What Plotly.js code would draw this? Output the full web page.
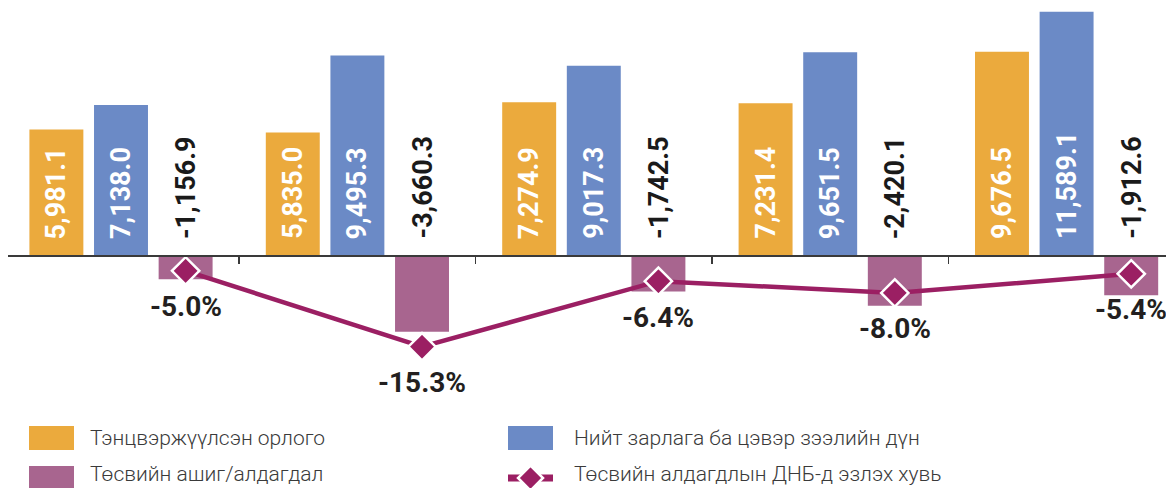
<!DOCTYPE html>
<html><head><meta charset="utf-8">
<script src="https://cdn.plot.ly/plotly-3.0.1.min.js"></script>
<style>html,body{margin:0;padding:0;background:#fff}#chart{width:1166px;height:488px}</style>
</head><body><div id="chart"></div>
<script>
// ---- data ----
const groups = ['1', '2', '3', '4', '5'];
const revenue = [5981.1, 5835.0, 7274.9, 7231.4, 9676.5];
const expenditure = [7138.0, 9495.3, 9017.3, 9651.5, 11589.1];
const balance = [-1156.9, -3660.3, -1742.5, -2420.1, -1912.6];
const balancePctGDP = [-5.0, -15.3, -6.4, -8.0, -5.4];
const seriesNames = [
  'Тэнцвэржүүлсэн орлого',
  'Нийт зарлага ба цэвэр зээлийн дүн',
  'Төсвийн ашиг/алдагдал',
  'Төсвийн алдагдлын ДНБ-д эзлэх хувь'
];
const colors = ['#EBAA3D', '#6B8AC6', '#A8658F', '#9B1F63'];

// ---- layout helpers ----
const W = 1166, H = 488, ML = 8, MR = 0, MT = 0, MB = 0;
const bargap = 0.18, bargroupgap = 0.165;
const slot = (1 - bargap) / 3;
const idx = groups.map((g, i) => i);
const xRange = [-0.478, 4.4205];
const yRange = [-11095, 12143];
const y2Range = [-34.5, 31.8];
const zeroFrac = -yRange[0] / (yRange[1] - yRange[0]);
const fx = px => (px - ML) / (W - ML - MR);
const fy = py => 1 - (py - MT) / (H - MT - MB);
const fmt = v => v.toLocaleString('en-US', {minimumFractionDigits: 1, maximumFractionDigits: 1});
const boldFont = 'Roboto, "Open Sans", sans-serif';

const traces = [
  {type: 'bar', x: idx, y: revenue, name: seriesNames[0], marker: {color: colors[0]}, hoverinfo: 'none'},
  {type: 'bar', x: idx, y: expenditure, name: seriesNames[1], marker: {color: colors[1]}, hoverinfo: 'none'},
  {type: 'bar', x: idx, y: balance, name: seriesNames[2], marker: {color: colors[2]}, hoverinfo: 'none'},
  {type: 'scatter', mode: 'lines+markers', x: idx.map(i => i + slot), y: balancePctGDP, yaxis: 'y2',
   name: seriesNames[3],
   line: {color: colors[3], width: 4.5},
   marker: {symbol: 'diamond', size: 21, color: colors[3], line: {color: '#ffffff', width: 2.5}},
   cliponaxis: false, hoverinfo: 'none'}
];

const annotations = [];
[revenue, expenditure, balance].forEach((arr, k) => {
  arr.forEach((v, i) => {
    annotations.push({
      x: i + (k - 1) * slot, y: 0, xref: 'x', yref: 'y', yanchor: 'bottom', xanchor: 'center',
      yshift: 14, textangle: -90, showarrow: false, text: fmt(v),
      font: {family: boldFont, size: 27, weight: 700, color: k < 2 ? '#ffffff' : '#1A1A1A'}
    });
  });
});
balancePctGDP.forEach((v, i) => {
  annotations.push({
    x: i + slot, y: v, xref: 'x', yref: 'y2', xanchor: 'center', yanchor: 'middle', yshift: -36,
    showarrow: false, text: v.toFixed(1) + '%',
    font: {family: boldFont, size: 28, weight: 700, color: '#231F20'}
  });
});

// legend (custom, drawn in paper coordinates)
const legendItems = [
  {name: seriesNames[0], sx: 29, sy: 438, tx: 88, kind: 'rect', color: colors[0]},
  {name: seriesNames[1], sx: 508, sy: 438, tx: 572, kind: 'rect', color: colors[1]},
  {name: seriesNames[2], sx: 29, sy: 478, tx: 88, kind: 'rect', color: colors[2]},
  {name: seriesNames[3], sx: 508, sy: 478, tx: 572, kind: 'line', color: colors[3]}
];
const shapes = [];
legendItems.forEach((it, n) => {
  if (it.kind === 'rect') {
    shapes.push({type: 'rect', xref: 'paper', yref: 'paper', x0: fx(it.sx), x1: fx(it.sx + 45),
      y0: fy(it.sy - 12), y1: fy(it.sy + 12), fillcolor: it.color, line: {width: 0}});
  } else {
    shapes.push({type: 'line', xref: 'paper', yref: 'paper', x0: fx(it.sx), x1: fx(it.sx + 45),
      y0: fy(it.sy), y1: fy(it.sy), line: {color: it.color, width: 7}});
    const cx = it.sx + 22.5, cy = it.sy, r = 12.5;
    shapes.push({type: 'path', xref: 'paper', yref: 'paper',
      path: `M${fx(cx)},${fy(cy - r)} L${fx(cx + r)},${fy(cy)} L${fx(cx)},${fy(cy + r)} L${fx(cx - r)},${fy(cy)} Z`,
      fillcolor: it.color, line: {color: '#ffffff', width: 2.5}});
  }
  const bottomRow = n >= 2;
  annotations.push({xref: 'paper', yref: 'paper', x: fx(it.tx),
    y: bottomRow ? fy(H - 0.5) : fy(it.sy), xanchor: 'left', yanchor: bottomRow ? 'bottom' : 'middle',
    showarrow: false, text: it.name, font: {family: 'Roboto, sans-serif', size: 21, weight: 300, color: '#3A3A3A'}});
});

const layout = {
  width: W, height: H,
  margin: {l: ML, r: MR, t: MT, b: MB, pad: 0},
  paper_bgcolor: '#ffffff', plot_bgcolor: 'rgba(0,0,0,0)',
  showlegend: false,
  barmode: 'group', bargap: bargap, bargroupgap: bargroupgap,
  xaxis: {range: xRange, showgrid: false, zeroline: false, showline: true, linecolor: '#3A3A3A',
    linewidth: 1.5, ticks: 'outside', tickvals: [0.5, 1.5, 2.5, 3.5], ticklen: 7, tickwidth: 1.5,
    tickcolor: '#3A3A3A', showticklabels: false, anchor: 'free', position: zeroFrac, fixedrange: true},
  yaxis: {range: yRange, visible: false, fixedrange: true},
  yaxis2: {range: y2Range, overlaying: 'y', visible: false, fixedrange: true},
  annotations: annotations,
  shapes: shapes
};

Plotly.newPlot('chart', traces, layout, {displayModeBar: false, staticPlot: true});
</script>
</body></html>
